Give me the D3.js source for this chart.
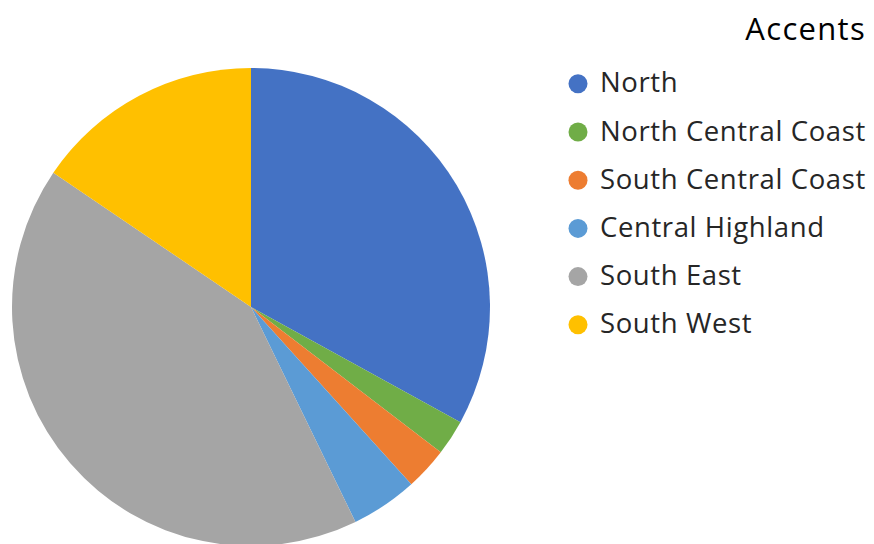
<!DOCTYPE html>
<html><head><meta charset="utf-8">
<script src="https://cdn.jsdelivr.net/npm/d3@7"></script>
<style>body{margin:0;background:#fff}svg{display:block}</style>
</head><body>
<svg id="c" width="874" height="544"></svg>
<script>
const categories = ["North","North Central Coast","South Central Coast","Central Highland","South East","South West"];
const values = [33.0, 2.4, 2.9, 4.5, 41.7, 15.5];
const colors = ["#4472C4","#70AD47","#ED7D31","#5B9BD5","#A5A5A5","#FFC000"];
const title = "Accents";

const svg = d3.select("#c");
const cx = 251, cy = 307, r = 239;
const data = categories.map((c,i)=>({name:c,value:values[i],color:colors[i]}));
const pie = d3.pie().value(d=>d.value).sort(null);
const arc = d3.arc().innerRadius(0).outerRadius(r);
svg.append("g").attr("transform",`translate(${cx},${cy})`)
  .selectAll("path").data(pie(data)).join("path")
  .attr("d",arc).attr("fill",d=>d.data.color);

const font = "'Open Sans', sans-serif";
svg.append("text").attr("x",866).attr("y",39.5).attr("text-anchor","end")
  .attr("font-family",font).attr("font-size",31).attr("letter-spacing",1.3)
  .attr("fill","#000").text(title);

const lg = svg.append("g");
const y0 = 92.3, dy = 48.2;
data.forEach((d,i)=>{
  const y = y0 + i*dy;
  lg.append("circle").attr("cx",578).attr("cy",y-8.5).attr("r",9.5).attr("fill",d.color);
  lg.append("text").attr("x",600).attr("y",y)
    .attr("font-family",font).attr("font-size",27.5).attr("letter-spacing",0.6)
    .attr("fill","#262626").text(d.name);
});
</script>
</body></html>
